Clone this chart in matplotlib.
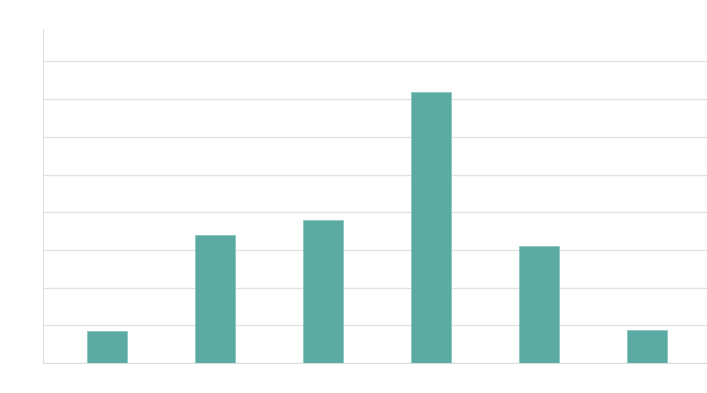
import matplotlib
matplotlib.use('Agg')
import matplotlib.pyplot as plt

# values (one grid step = 10)
categories = ['A', 'B', 'C', 'D', 'E', 'F']
values = [8.5, 34, 38, 72, 31, 8.7]
grid_ticks = [0, 10, 20, 30, 40, 50, 60, 70, 80]

fig = plt.figure(figsize=(7.07, 3.93), dpi=100)
ax = fig.add_axes([43 / 707, 30 / 393, 664 / 707, 334 / 393])

x = range(len(categories))
ax.bar(x, values, width=0.37, color='#5baba4', edgecolor='#8cc5bf', linewidth=0.6, zorder=3)

ax.set_xlim(-0.593, 5.556)
ax.set_ylim(0, 88.6)
ax.set_yticks(grid_ticks)
ax.set_xticks(list(x))
ax.tick_params(left=False, bottom=False, labelleft=False, labelbottom=False)
ax.grid(axis='y', color='#e2e2e2', linewidth=1, zorder=0)

for side in ['top', 'right']:
    ax.spines[side].set_visible(False)
ax.spines['left'].set_color('#dddddd')
ax.spines['bottom'].set_color('#dddddd')

fig.savefig('out.png', dpi=100)
